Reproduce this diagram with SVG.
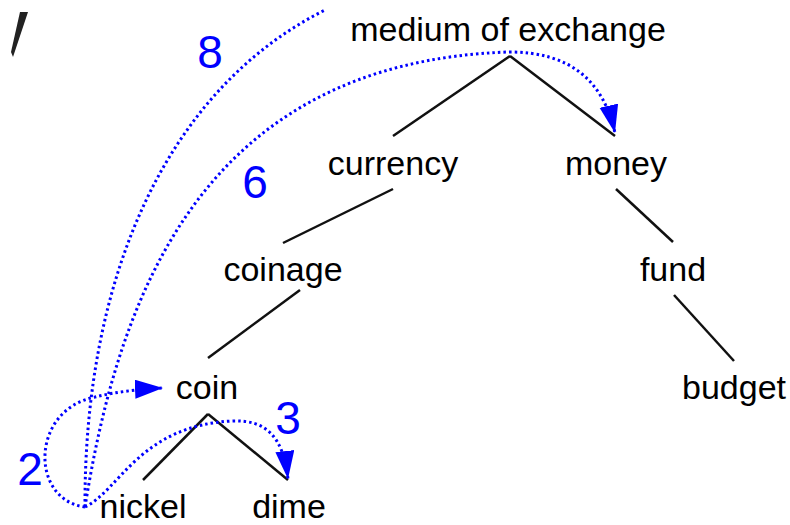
<svg xmlns="http://www.w3.org/2000/svg" width="790" height="525" viewBox="0 0 790 525">
<style>
.lbl{font-family:"Liberation Sans",Arial,sans-serif;font-size:34px;fill:#000;text-anchor:middle}
.num{font-family:"Liberation Sans",Arial,sans-serif;font-size:46px;fill:#0000ff;text-anchor:middle}
.edge{stroke:#111;stroke-width:2.5;fill:none}
.path{stroke:#0000ff;stroke-width:3;fill:none;stroke-dasharray:2.5 3}
.arr{stroke:#0000ff;stroke-width:3;fill:none;stroke-dasharray:2.5 3;marker-end:url(#ah)}
</style>
<defs>
<marker id="ah" markerUnits="userSpaceOnUse" markerWidth="30" markerHeight="20" refX="28" refY="9.5" orient="auto">
<path d="M0,0 L28,9.5 L0,19 z" fill="#0000ff"/>
</marker>
</defs>
<rect width="790" height="525" fill="#fff"/>
<polygon points="20,12 28,12 13,57 11,52" fill="#222"/>
<g id="connectors">
<line class="edge" x1="510" y1="56" x2="393" y2="136"/>
<line class="edge" x1="510" y1="56" x2="615" y2="136"/>
<line class="edge" x1="393" y1="189" x2="283" y2="243"/>
<line class="edge" x1="300" y1="290" x2="208" y2="358"/>
<line class="edge" x1="208" y1="414" x2="143" y2="480"/>
<line class="edge" x1="208" y1="414" x2="288" y2="480"/>
<line class="edge" x1="616" y1="189" x2="673" y2="242"/>
<line class="edge" x1="674" y1="295" x2="734" y2="361"/>
<path class="path" d="M85,507 C84,280 165,90 325,10"/>
<path class="arr" d="M85,507 C118,300 200,62 509,52 C570,52 603,80 615,133"/>
<path class="arr" d="M85,507 C30,500 30,410 95,397 C115,392 140,389 163,388"/>
<path class="arr" d="M85,507 C120,490 140,425 233,421 C265,420 283,435 288,479"/>
</g>
<g id="n-medium"><text class="lbl" x="508" y="41">medium of exchange</text></g>
<g id="n-currency"><text class="lbl" x="393" y="175">currency</text></g>
<g id="n-money"><text class="lbl" x="616" y="175">money</text></g>
<g id="n-coinage"><text class="lbl" x="283" y="281">coinage</text></g>
<g id="n-fund"><text class="lbl" x="673" y="281">fund</text></g>
<g id="n-coin"><text class="lbl" x="207" y="399">coin</text></g>
<g id="n-budget"><text class="lbl" x="734" y="399">budget</text></g>
<g id="n-nickel"><text class="lbl" x="143" y="518">nickel</text></g>
<g id="n-dime"><text class="lbl" x="289" y="518">dime</text></g>
<g id="labels">
<text class="num" x="210" y="68">8</text>
<text class="num" x="255" y="198">6</text>
<text class="num" x="30" y="485">2</text>
<text class="num" x="288" y="434">3</text>
</g>
</svg>
